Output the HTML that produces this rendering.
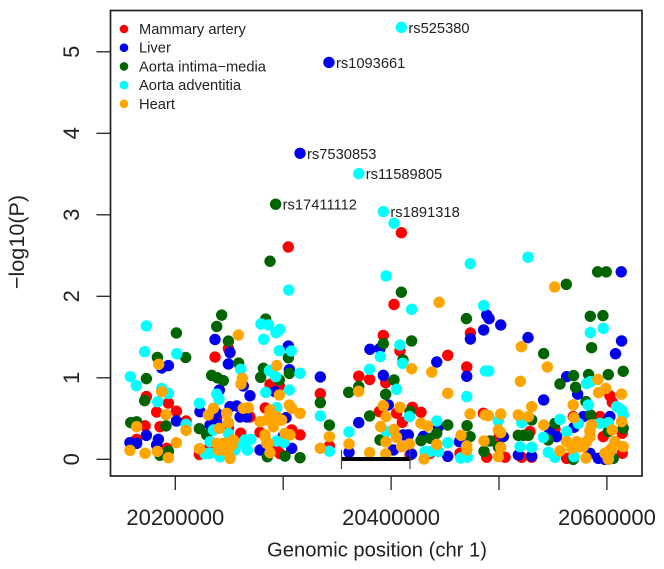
<!DOCTYPE html>
<html lang="en">
<head>
<meta charset="utf-8">
<title>Regional association plot</title>
<style>
html,body{margin:0;padding:0;background:#fff;width:664px;height:569px;overflow:hidden}
svg{display:block}
text{font-family:"Liberation Sans",Arial,sans-serif;fill:#222}
</style>
</head>
<body>
<svg id="chart" xmlns="http://www.w3.org/2000/svg" width="664" height="569" viewBox="0 0 664 569">
<g id="points"></g>
<g id="region"></g>
<g id="snp-labels"></g>
<rect x="110.5" y="10.5" width="531.5" height="465.5" fill="none" stroke="#222" stroke-width="1.7"></rect>
<g id="axes"></g>
<g id="legend"></g>
<text x="377" y="556.5" font-size="20.2" text-anchor="middle">Genomic position (chr 1)</text>
<text transform="translate(24,242) rotate(-90)" font-size="21.6" text-anchor="middle">−log10(P)</text>
</svg>
<script>
// Positions are in kilobases on chromosome 1; values are -log10(P).
const seriesNames = ['Mammary artery','Liver','Aorta intima−media','Aorta adventitia','Heart'];
const seriesColors = ['#ff0000','#0000ee','#006400','#00ffff','#ffa500'];

const redPos = [20304.7,20409.5,20402.7,20236.8,20249.2,20173.2,20193.6,20182.7,20201,20210,20172,20185.8,20164.2,20192,20283.4,20296.4,20287.8,20278.5,20307.9,20315.6,20294,20297,20260.6,20238.4,20232.2,20222.3,20249.2,20334.4,20342.8,20269.2,20392.8,20408.2,20370,20380.1,20395,20405.1,20410.4,20389.1,20419.7,20427.7,20417.5,20452.5,20470.1,20473.5,20485.5,20528.7,20551.9,20568.8,20593.5,20602.8,20605,20614.2,20596.6,20614.2,20562.7,20488.6,20505.6,20521,20530.3,20436.1,20463.9,20499.4];
const redVal = [2.605,2.78,1.9,1.255,1.36,.77,.69,.58,.59,.47,.41,.4,.245,.135,.63,.9,.92,.33,.36,.3,.155,.07,.32,.5,.155,.06,.38,.805,.163,.52,1.52,1.33,1.02,.98,.94,.565,.454,.585,.638,.577,.053,1.276,1.133,1.55,.564,.34,.372,.524,.524,.78,.7,.32,.278,.074,.012,.025,.025,.025,.025,.074,.074,.26];

const bluePos = [20342.4,20315.6,20236.8,20250.7,20249.2,20193.6,20187.4,20173.2,20184.3,20158,20164.2,20201,20182.7,20240.8,20222.9,20269.2,20263,20250.7,20256.9,20232.2,20238.4,20260,20266.2,20244.5,20238.4,20304.8,20305.7,20292.4,20302.6,20300.1,20278.5,20307.9,20334.4,20380.4,20389.7,20392.8,20397.4,20370,20361,20416,20411.3,20402.1,20419,20429.9,20613.3,20488.6,20490.8,20501.6,20485.8,20473.5,20526.9,20613.6,20608,20562.7,20572.9,20442.3,20470.1,20541.4,20602.8,20578.1,20443.9,20452.5,20463.3,20504,20517.9,20530.3,20547.2,20553.4,20569.5,20592,20598.2,20584.3];
const blueVal = [4.87,3.755,1.47,1.31,1.17,1.15,1.12,.294,.245,.204,.196,.47,.176,.85,.584,.78,.9,.646,.654,.42,.44,.52,.52,.135,.564,1.39,1.1,.83,.51,.286,.114,.135,1.01,1.35,1.36,1.03,.667,.45,.086,.3,.3,.115,.065,.28,2.3,1.77,1.726,1.648,1.587,1.476,1.493,1.452,1.296,1.014,.8,1.194,1.018,.728,.524,.524,.4,.037,.217,.278,.053,.04,.34,.278,.393,.012,0,.074];

const greenPos = [20293,20287.8,20409.5,20243,20238.4,20201,20183.4,20209.6,20173.2,20171.6,20158.7,20164.2,20191.4,20193.6,20185.8,20249.2,20258.7,20233.7,20239,20244.5,20222.3,20229.1,20283.8,20304.8,20281.6,20279.1,20305.7,20296.4,20285.3,20301.7,20315.6,20334.4,20342.8,20392.8,20419,20411,20402.7,20370,20360.7,20395,20380.1,20417.5,20389.7,20427.7,20562.4,20591.4,20599.4,20469.8,20584.6,20596.3,20585.8,20541.4,20556.5,20569.1,20583,20601.3,20615.1,20571,20580.6,20584.9,20530.3,20452.5,20470.4,20551.9,20442.3,20436.1,20473.2,20491.7,20486.1,20499.4,20517.9,20522.6,20527.2,20545.7,20601.3,20615.1,20568.8,20605.9];
const greenVal = [3.13,2.43,2.05,1.77,1.63,1.55,1.25,1.25,.99,.72,.45,.46,.41,.1,.05,1.45,1.18,1.03,1,.965,.376,.3,1.72,1.247,1.116,1.006,1.055,.973,.032,.04,.02,.695,.42,1.419,1.452,1.219,.973,.892,.822,.798,.532,.585,.237,.229,2.147,2.3,2.3,1.726,1.755,1.763,1.37,1.297,.924,1.027,1.04,1.04,1.08,.883,.708,.544,.483,.421,.413,.442,.319,.258,.278,.225,.098,.155,.294,.294,.294,.237,.34,.38,0,.012];

const cyanPos = [20409.5,20370,20392.8,20402.7,20305.1,20395.3,20473.4,20173.2,20171.6,20201.3,20158.3,20163.9,20187.4,20193.6,20183.7,20260.6,20238.4,20240.5,20222.3,20279.4,20286.5,20297,20293.3,20281.9,20296.4,20307.5,20315.6,20287.2,20293,20305.7,20283.8,20294,20334.4,20342.8,20210,20249.2,20232.2,20264.6,20269.9,20261.5,20266.8,20294,20300.7,20232.2,20241.4,20235.3,20255.3,20227.5,20419,20408.2,20390,20410.7,20380.1,20405.1,20416.9,20361,20395.9,20431.4,20526.9,20485.8,20584.6,20596.6,20487.4,20490.5,20470.1,20584.9,20581.2,20582.7,20609,20613.6,20615.1,20442.3,20499.4,20556.5,20521,20541.1,20562.7,20573.5,20601.3,20593.5,20452.5,20436.1,20443.9,20519.5,20530.3,20545.7,20551.9,20569.5,20464.5,20470.7];
const cyanVal = [5.3,3.505,3.04,2.896,2.077,2.25,2.4,1.636,1.32,1.296,1.014,.903,.87,.81,.707,1.104,.8,.736,.687,1.66,1.648,1.595,1.554,1.472,1.333,1.329,1.055,1.088,1.014,.85,.822,.633,.531,.1,.429,.319,.216,.237,.245,.196,.114,.224,.208,.073,.032,.36,.114,.07,1.84,1.403,1.26,1.178,1.104,.859,.524,.335,.339,.094,2.48,1.886,1.554,1.607,1.084,1.084,.769,.953,.93,.667,.646,.605,.544,.47,.47,.49,.45,.27,.34,.44,.45,.442,.204,.094,.094,.155,.147,.086,.025,.033,.016,.025];

const orangePos = [20184.6,20187.4,20191.4,20164.2,20210,20201,20158,20172,20183.4,20193.6,20258.4,20262.1,20260.9,20235.3,20230.6,20247.6,20249.2,20240.8,20267.7,20263,20222.3,20238.4,20247.6,20253.8,20244.5,20249.2,20250.7,20294,20296.4,20305.7,20315.6,20307.9,20287.8,20278.5,20284.7,20290.9,20295.5,20290.9,20283.1,20284.7,20301.7,20306.3,20287.8,20334.4,20342.8,20419,20370,20392.8,20408.2,20395.3,20390.3,20402.7,20405.1,20395.3,20409.8,20416.9,20361,20380.1,20395,20430.5,20427.7,20433.6,20444.5,20551.6,20437.7,20452.5,20519.8,20544.8,20520.7,20591.7,20599.1,20592.3,20613.6,20568.8,20569.5,20530.3,20473.2,20487.1,20490.2,20501.6,20517.9,20527.2,20541.4,20442.3,20464.8,20470.1,20470.1,20486.1,20499.4,20501.6,20501.6,20499.4,20556.5,20562.7,20568.8,20575,20581.2,20584.3,20585.8,20613.6,20605,20607.4,20615.1,20601.3,20604.3,20598.2,20601.3,20580.6,20573.5,20578.1,20244.5,20239.9,20249,20252.3,20287.8,20294,20298.6,20290.8,20283.1,20286.2,20572,20578.1,20584.3,20584.3,20567.4,20575,20602.9,20601.3];
const orangeVal = [1.165,.83,.548,.4,.355,.204,.11,.073,.098,.02,1.525,.993,.924,.625,.544,.564,.45,.38,.633,.625,.13,.196,.196,.237,.114,.094,.012,1.15,.79,.666,.564,.625,.605,.462,.482,.523,.482,.4,.3,.196,.319,.3,.081,.135,.278,1.112,.834,.658,.638,.524,.401,.368,.27,.213,.155,.188,.188,.082,.065,.004,.442,.409,1.926,2.115,1.07,.81,.957,1.133,1.382,.98,.87,.818,.8,.667,.511,.646,.556,.544,.536,.556,.544,.524,.421,.184,.294,.164,.115,.225,.36,.327,.147,.033,.102,.217,.176,.196,.217,.34,.421,.462,.36,.217,.155,.094,.135,.074,.012,.016,.155,.155,.196,.114,.139,.175,.564,.523,.482,.44,.277,.196,.216,.175,.277,.36,.135,.155,.093,0];

const xTickValues = [20200000,20300000,20400000,20500000,20600000];
const xTickLabels = ['20200000','','20400000','','20600000'];
const yTickValues = [0,1,2,3,4,5];
const regionStart = 20354;
const regionEnd = 20417.5;

// Named SNPs refer to a point in a series: [series index] and [point index].
const snpNames = ['rs525380','rs1093661','rs7530853','rs11589805','rs1891318','rs17411112'];
const snpSeries = [3,1,1,3,3,2];
const snpPoint = [0,0,1,1,2,0];

const seriesPos = [redPos,bluePos,greenPos,cyanPos,orangePos];
const seriesVal = [redVal,blueVal,greenVal,cyanVal,orangeVal];
const seriesSlugs = ['mammary-artery','liver','aorta-intima-media','aorta-adventitia','heart'];

function xScale(kb){ return 175.3 + (kb - 20200) * 1.079; }
function yScale(v){ return 459.3 - v * 81.5; }

const NS = 'http://www.w3.org/2000/svg';
function make(tag, attrs, parent, txt){
  const el = document.createElementNS(NS, tag);
  for (const k in attrs) el.setAttribute(k, attrs[k]);
  if (txt !== undefined) el.textContent = txt;
  parent.appendChild(el);
  return el;
}

const pointsG = document.getElementById('points');
seriesPos.forEach(function(list, s){
  list.forEach(function(p, i){
    const c = make('circle', {cx: xScale(p), cy: yScale(seriesVal[s][i]), r: 5.7, fill: seriesColors[s]}, pointsG);
    
    
  });
});

const regionG = document.getElementById('region');
const barLine = make('line', {x1: xScale(regionStart), x2: xScale(regionEnd), y1: 459, y2: 459, stroke: '#000', 'stroke-width': 4}, regionG);


[regionStart, regionEnd].forEach(function(p){
  const cap = make('line', {x1: xScale(p), x2: xScale(p), y1: 450, y2: 469, stroke: '#445', 'stroke-width': 1.2}, regionG);
  
  
});

const labelsG = document.getElementById('snp-labels');
snpNames.forEach(function(name, i){
  const s = snpSeries[i], k = snpPoint[i];
  const t = make('text', {x: xScale(seriesPos[s][k]) + 7, y: yScale(seriesVal[s][k]) + 5.5, 'font-size': 14.7}, labelsG, name);
  
  
});

const axesG = document.getElementById('axes');
xTickValues.forEach(function(v, i){
  const x = xScale(v / 1000);
  const tick = make('line', {x1: x, x2: x, y1: 476, y2: 490, stroke: '#222', 'stroke-width': 1.3}, axesG);
  
  
  if (xTickLabels[i]) {
    const lab = make('text', {x: x, y: 525, 'font-size': 22, 'text-anchor': 'middle'}, axesG, xTickLabels[i]);
    
    
  }
});
yTickValues.forEach(function(v){
  const y = yScale(v);
  const tick = make('line', {x1: 96.5, x2: 110, y1: y, y2: y, stroke: '#222', 'stroke-width': 1.3}, axesG);
  
  
  const lab = make('text', {transform: 'translate(79,' + y + ') rotate(-90)', 'font-size': 22, 'text-anchor': 'middle'}, axesG, String(v));
  
  
});

const legendG = document.getElementById('legend');
seriesNames.forEach(function(name, i){
  const y = 29 + i * 18.7;
  const dot = make('circle', {cx: 124, cy: y, r: 4.3, fill: seriesColors[i]}, legendG);
  
  
  const t = make('text', {x: 139, y: y + 5, 'font-size': 14.7}, legendG, name);
  
  
});
</script>
</body>
</html>
